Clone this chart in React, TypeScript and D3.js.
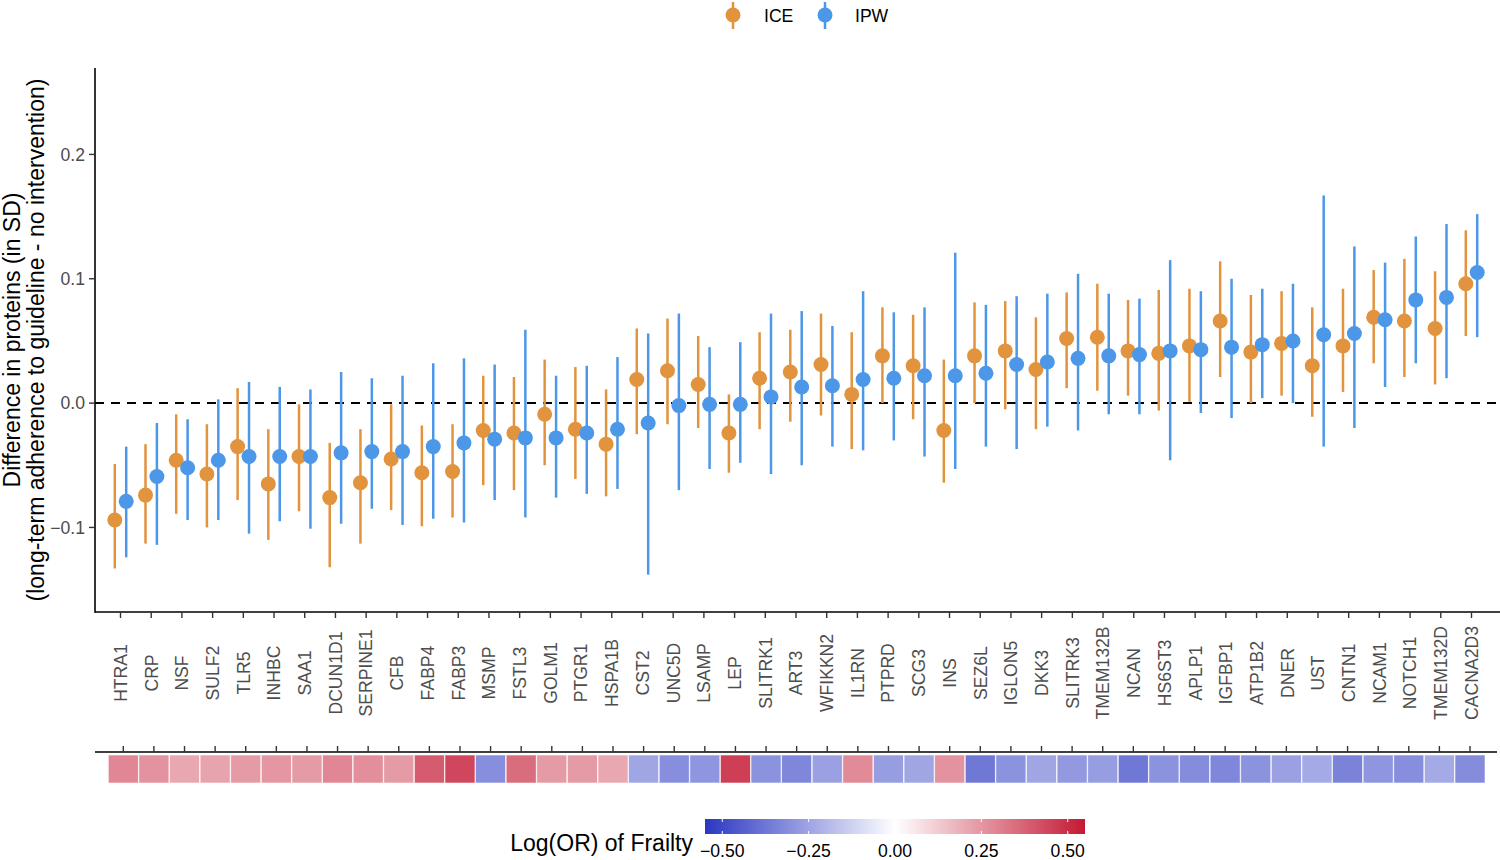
import React from 'react'
import * as d3 from 'd3'

const proteins = [
    'HTRA1', 'CRP', 'NSF', 'SULF2', 'TLR5', 'INHBC', 'SAA1', 'DCUN1D1', 'SERPINE1', 'CFB',
    'FABP4', 'FABP3', 'MSMP', 'FSTL3', 'GOLM1', 'PTGR1', 'HSPA1B', 'CST2', 'UNC5D', 'LSAMP',
    'LEP', 'SLITRK1', 'ART3', 'WFIKKN2', 'IL1RN', 'PTPRD', 'SCG3', 'INS', 'SEZ6L', 'IGLON5',
    'DKK3', 'SLITRK3', 'TMEM132B', 'NCAN', 'HS6ST3', 'APLP1', 'IGFBP1', 'ATP1B2', 'DNER', 'UST',
    'CNTN1', 'NCAM1', 'NOTCH1', 'TMEM132D', 'CACNA2D3',
]

const iceEst = [
    -0.094, -0.074, -0.046, -0.057, -0.035, -0.065, -0.043, -0.076, -0.064, -0.045,
    -0.056, -0.055, -0.022, -0.024, -0.009, -0.021, -0.033, 0.019, 0.026, 0.015,
    -0.024, 0.020, 0.025, 0.031, 0.007, 0.038, 0.030, -0.022, 0.038, 0.042,
    0.027, 0.052, 0.053, 0.042, 0.040, 0.046, 0.066, 0.041, 0.048, 0.030,
    0.046, 0.069, 0.066, 0.060, 0.096,
]
const iceLo = [
    -0.133, -0.113, -0.089, -0.100, -0.078, -0.110, -0.087, -0.132, -0.113, -0.086,
    -0.099, -0.092, -0.066, -0.070, -0.050, -0.061, -0.075, -0.025, -0.017, -0.020,
    -0.056, -0.021, -0.015, -0.010, -0.037, 0.000, -0.013, -0.064, 0.000, -0.005,
    -0.021, 0.012, 0.010, 0.006, -0.006, 0.001, 0.021, 0.000, 0.006, -0.011,
    0.009, 0.032, 0.021, 0.015, 0.054,
]
const iceHi = [
    -0.049, -0.033, -0.009, -0.017, 0.012, -0.021, -0.001, -0.032, -0.021, -0.001,
    -0.018, -0.017, 0.022, 0.021, 0.035, 0.029, 0.011, 0.060, 0.068, 0.054,
    0.007, 0.057, 0.059, 0.072, 0.057, 0.077, 0.071, 0.035, 0.081, 0.082,
    0.069, 0.089, 0.096, 0.083, 0.091, 0.092, 0.114, 0.087, 0.090, 0.077,
    0.092, 0.107, 0.116, 0.106, 0.139,
]

const ipwEst = [
    -0.079, -0.059, -0.052, -0.046, -0.043, -0.043, -0.043, -0.040, -0.039, -0.039,
    -0.035, -0.032, -0.029, -0.028, -0.028, -0.024, -0.021, -0.016, -0.002, -0.001,
    -0.001, 0.005, 0.013, 0.014, 0.019, 0.020, 0.022, 0.022, 0.024, 0.031,
    0.033, 0.036, 0.038, 0.039, 0.042, 0.043, 0.045, 0.047, 0.050, 0.055,
    0.056, 0.067, 0.083, 0.085, 0.105,
]
const ipwLo = [
    -0.124, -0.114, -0.094, -0.094, -0.105, -0.095, -0.101, -0.097, -0.085, -0.098,
    -0.093, -0.096, -0.078, -0.092, -0.076, -0.073, -0.069, -0.138, -0.070, -0.053,
    -0.048, -0.057, -0.050, -0.035, -0.038, -0.030, -0.043, -0.053, -0.035, -0.037,
    -0.019, -0.022, -0.009, -0.009, -0.046, -0.008, -0.012, 0.004, 0.000, -0.035,
    -0.020, 0.013, 0.032, 0.020, 0.053,
]
const ipwHi = [
    -0.035, -0.016, -0.013, 0.003, 0.017, 0.013, 0.011, 0.025, 0.020, 0.022,
    0.032, 0.036, 0.031, 0.059, 0.022, 0.030, 0.037, 0.056, 0.072, 0.045,
    0.049, 0.072, 0.074, 0.062, 0.090, 0.073, 0.077, 0.121, 0.079, 0.086,
    0.088, 0.104, 0.088, 0.084, 0.115, 0.090, 0.100, 0.092, 0.096, 0.167,
    0.126, 0.113, 0.134, 0.144, 0.152,
]

// log odds ratio of frailty per protein (heat strip)
const logOR = [
    0.29, 0.26, 0.21, 0.22, 0.24, 0.25, 0.24, 0.29, 0.27, 0.24,
    0.39, 0.44, -0.31, 0.35, 0.24, 0.24, 0.21, -0.245, -0.31, -0.29,
    0.46, -0.30, -0.33, -0.26, 0.28, -0.27, -0.245, 0.26, -0.37, -0.30,
    -0.245, -0.28, -0.27, -0.37, -0.30, -0.315, -0.33, -0.30, -0.26, -0.235,
    -0.34, -0.29, -0.31, -0.235, -0.315,
]

const yTicks = [-0.1, 0, 0.1, 0.2]
const colorTicks = [-0.5, -0.25, 0, 0.25, 0.5]

const W = 1500
const H = 860
const font = '"Liberation Sans", Arial, sans-serif'
const ICE_COL = '#E1933E'
const IPW_COL = '#4C97E8'
const LOW = '#2A37C2'
const HIGH = '#C41934'

const panel = { left: 95, right: 1500, top: 68, bottom: 612 }
const dodge = 5.7

function App() {
    const x = d3.scalePoint<string>().domain(proteins).range([120.5, 1471.5])
    const y = d3.scaleLinear().domain([-0.168, 0.2695]).range([panel.bottom, panel.top])
    const xh = d3.scalePoint<string>().domain(proteins).range([123.3, 1470])
    const fill = d3.scaleLinear<string>()
        .domain([-0.55, 0, 0.55])
        .range([LOW, '#FFFFFF', HIGH])
        .interpolate(d3.interpolateRgb)
    const cb = d3.scaleLinear().domain([-0.55, 0.55]).range([705, 1085])

    const series = [
        { name: 'ICE', col: ICE_COL, est: iceEst, lo: iceLo, hi: iceHi, off: -dodge },
        { name: 'IPW', col: IPW_COL, est: ipwEst, lo: ipwLo, hi: ipwHi, off: dodge },
    ]

    const stops = d3.range(0, 1.0001, 0.05).map(t => ({ t, c: fill(-0.55 + t * 1.1) }))
    const tileW = 30

    return (
        <div style={{ position: 'absolute', left: 0, top: 0 }}>
            <svg width={W} height={H} style={{ display: 'block', fontFamily: font }}>
                <defs>
                    <linearGradient id="cbar" x1="0" x2="1" y1="0" y2="0">
                        {stops.map(s => <stop key={s.t} offset={s.t} stopColor={s.c} />)}
                    </linearGradient>
                </defs>

                {/* legend */}
                <g>
                    <line x1={733} x2={733} y1={2} y2={29} stroke={ICE_COL} strokeWidth={2.5} />
                    <circle cx={733} cy={15} r={7.5} fill={ICE_COL} />
                    <text x={764} y={22} fontSize={17.6} fill="#000">ICE</text>
                    <line x1={825} x2={825} y1={2} y2={29} stroke={IPW_COL} strokeWidth={2.5} />
                    <circle cx={825} cy={15} r={7.5} fill={IPW_COL} />
                    <text x={855} y={22} fontSize={17.6} fill="#000">IPW</text>
                </g>

                {/* zero line */}
                <line x1={panel.left} x2={panel.right} y1={y(0)} y2={y(0)}
                    stroke="#000" strokeWidth={2} strokeDasharray="9,7" />

                {/* error bars and points */}
                {series.map(s => (
                    <g key={s.name}>
                        {proteins.map((p, i) => (
                            <line key={p} x1={x(p)! + s.off} x2={x(p)! + s.off}
                                y1={y(s.lo[i])} y2={y(s.hi[i])}
                                stroke={s.col} strokeWidth={2.5} />
                        ))}
                    </g>
                ))}
                {series.map(s => (
                    <g key={s.name + 'pt'}>
                        {proteins.map((p, i) => (
                            <circle key={p} cx={x(p)! + s.off} cy={y(s.est[i])} r={7.5} fill={s.col} />
                        ))}
                    </g>
                ))}

                {/* axes */}
                <line x1={panel.left} x2={panel.left} y1={panel.top} y2={panel.bottom + 0.75}
                    stroke="#000" strokeWidth={1.6} />
                <line x1={panel.left} x2={panel.right} y1={panel.bottom} y2={panel.bottom}
                    stroke="#000" strokeWidth={1.6} />
                {yTicks.map(t => (
                    <g key={t}>
                        <line x1={panel.left - 6} x2={panel.left} y1={y(t)} y2={y(t)} stroke="#333" strokeWidth={1.4} />
                        <text x={panel.left - 10} y={y(t)} dy="0.35em" textAnchor="end"
                            fontSize={17.6} fill="#4D4D4D">{t === 0 ? '0.0' : d3.format('.1f')(t)}</text>
                    </g>
                ))}
                {proteins.map(p => (
                    <g key={p}>
                        <line x1={x(p)} x2={x(p)} y1={panel.bottom} y2={panel.bottom + 6} stroke="#333" strokeWidth={1.4} />
                        <text transform={`translate(${x(p)},673) rotate(-90)`} textAnchor="middle"
                            dy="0.36em" fontSize={17.6} fill="#4D4D4D">{p}</text>
                    </g>
                ))}

                {/* y title */}
                <g transform={`translate(0,${(panel.top + panel.bottom) / 2})`}>
                    <text transform="translate(20,0) rotate(-90)" textAnchor="middle" fontSize={23} fill="#000">
                        Difference in proteins (in SD)
                    </text>
                    <text transform="translate(44,0) rotate(-90)" textAnchor="middle" fontSize={23} fill="#000">
                        (long-term adherence to guideline - no intervention)
                    </text>
                </g>

                {/* heatmap strip */}
                <line x1={95} x2={1497} y1={752} y2={752} stroke="#000" strokeWidth={1.6} />
                {proteins.map((p, i) => (
                    <g key={p}>
                        <line x1={xh(p)} x2={xh(p)} y1={746} y2={752} stroke="#333" strokeWidth={1.4} />
                        <rect x={xh(p)! - tileW / 2} y={755} width={tileW} height={28}
                            fill={fill(logOR[i])} stroke="#fff" strokeWidth={0.8} strokeOpacity={0.7} />
                    </g>
                ))}

                {/* colour bar */}
                <text x={693} y={851} textAnchor="end" fontSize={23} fill="#000">Log(OR) of Frailty</text>
                <rect x={cb(-0.55)} y={819} width={cb(0.55) - cb(-0.55)} height={15} fill="url(#cbar)" />
                {colorTicks.map(t => (
                    <g key={t}>
                        <line x1={cb(t)} x2={cb(t)} y1={819} y2={822} stroke="#fff" strokeWidth={1} />
                        <line x1={cb(t)} x2={cb(t)} y1={831} y2={834} stroke="#fff" strokeWidth={1} />
                        <text x={cb(t)} y={857} textAnchor="middle" fontSize={17.6} fill="#000">
                            {d3.format('.2f')(t)}
                        </text>
                    </g>
                ))}
            </svg>
        </div>
    )
}

export default App
